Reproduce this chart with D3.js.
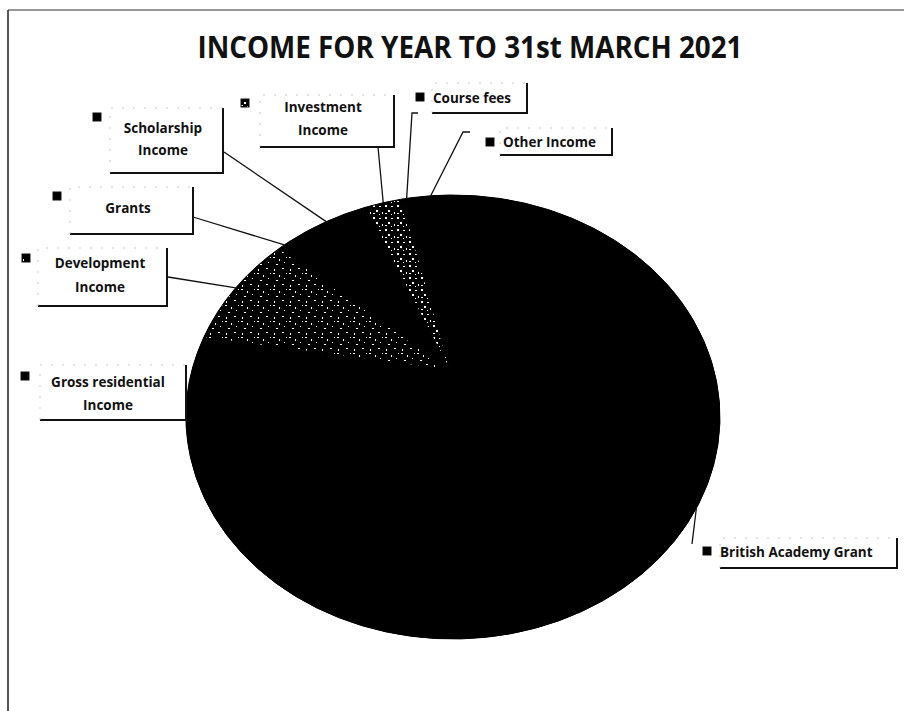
<!DOCTYPE html>
<html>
<head>
<meta charset="utf-8">
<script src="https://cdn.jsdelivr.net/npm/d3@7"></script>
<style>
  html, body { margin: 0; padding: 0; background: #fff; }
  svg { display: block; }
  text { font-family: "Open Sans", "Noto Sans", sans-serif; fill: #111; }
</style>
</head>
<body>
<svg id="chart" width="912" height="711"></svg>
<script>
// ---- data (shares of income, %) ----
const categories = [
  "British Academy Grant",
  "Gross residential Income",
  "Development Income",
  "Grants",
  "Scholarship Income",
  "Investment Income",
  "Course fees",
  "Other Income"
];
const shares = [68.9, 8.6, 8.75, 0.97, 6.25, 2.86, 0.75, 2.92];
const labelLines = [
  ["British Academy Grant"],
  ["Gross residential", "Income"],
  ["Development", "Income"],
  ["Grants"],
  ["Scholarship", "Income"],
  ["Investment", "Income"],
  ["Course fees"],
  ["Other Income"]
];
const titleText = "INCOME FOR YEAR TO 31st MARCH 2021";

// ---- styles / layout ----
const sliceFill = ["black", "black", "url(#speckA)", "black", "black", "url(#speckB)", "black", "black"];
const layout = [
  { mk: [707, 551], anchor: "start", tx: 720, ty: [557], box: [720, 538, 897, 568], lead: [[692, 544]] },
  { mk: [25, 376], anchor: "middle", tx: 108, ty: [387, 410], box: [40, 365, 186, 420], lead: null },
  { mk: [26, 258], anchor: "middle", tx: 100, ty: [268, 292], box: [38, 248, 167, 306], lead: [[168, 277]] },
  { mk: [57, 196], anchor: "middle", tx: 128, ty: [213], box: [70, 187, 193, 234], lead: [[193, 217]] },
  { mk: [97, 117], anchor: "middle", tx: 163, ty: [133, 155], box: [110, 108, 223, 173], lead: [[224, 152]] },
  { mk: [245, 103], anchor: "middle", tx: 323, ty: [112, 135], box: [260, 95, 394, 147], lead: [[378, 147]] },
  { mk: [420, 97], anchor: "start", tx: 433, ty: [103], box: [432, 83, 527, 113], lead: [[418, 113], [412, 113]] },
  { mk: [490, 142], anchor: "start", tx: 503, ty: [147], box: [500, 128, 612, 155], lead: [[470, 132], [463, 132]] }
];

const svg = d3.select("#chart");

// patterns for the scanned grey slices
const defs = svg.append("defs");
function speckle(id, size, dots) {
  const p = defs.append("pattern").attr("id", id).attr("patternUnits", "userSpaceOnUse")
    .attr("width", size).attr("height", size);
  p.append("rect").attr("width", size).attr("height", size).attr("fill", "black");
  dots.forEach(d => p.append("rect").attr("x", d[0]).attr("y", d[1]).attr("width", d[2]).attr("height", d[3]).attr("fill", "white"));
}
speckle("speckA", 16, [[1, 1, 2, 1], [7, 3, 1, 2], [4, 8, 2, 1], [12, 6, 1, 1], [2, 13, 1, 2], [10, 12, 2, 1], [14, 1, 1, 1]]);
speckle("speckB", 12, [[1, 1, 2, 2], [7, 2, 2, 1], [4, 6, 2, 2], [10, 8, 1, 2], [1, 9, 2, 1], [7, 10, 1, 1]]);

// frame (scanned border)
svg.append("line").attr("x1", 8).attr("y1", 10).attr("x2", 904).attr("y2", 10)
  .attr("stroke", "#333").attr("stroke-width", 1.2);
svg.append("line").attr("x1", 8).attr("y1", 10).attr("x2", 8).attr("y2", 711)
  .attr("stroke", "#222").attr("stroke-width", 1.5);

// title
svg.append("text").attr("x", 470).attr("y", 58).attr("text-anchor", "middle")
  .attr("font-size", 30).attr("font-weight", 700)
  .attr("textLength", 545).attr("lengthAdjust", "spacingAndGlyphs")
  .text(titleText);

// ---- pie ----
const apex = [450, 370];        // slice apex
const ell = { cx: 453, cy: 417, rx: 267, ry: 222 };  // outline

const pie = d3.pie().sort(null).value(d => d.value);
const arcs = pie(categories.map((c, i) => ({ name: c, value: shares[i], i })));

// point on the outline reached from the apex in direction of pie angle a
function edgePoint(a) {
  const u = (apex[0] - ell.cx) / ell.rx, v = (apex[1] - ell.cy) / ell.ry;
  const dx = Math.sin(a), dy = -Math.cos(a);
  const b = u * dx + v * dy;
  const c = u * u + v * v - 1;
  const t = -b + Math.sqrt(b * b - c);
  const nx = u + t * dx, ny = v + t * dy;
  return { x: ell.cx + nx * ell.rx, y: ell.cy + ny * ell.ry, phi: Math.atan2(ny, nx) };
}

function slicePath(d) {
  const p1 = edgePoint(d.startAngle), p2 = edgePoint(d.endAngle);
  let dphi = p2.phi - p1.phi;
  while (dphi < 0) dphi += 2 * Math.PI;
  const large = dphi > Math.PI ? 1 : 0;
  return `M${apex[0]},${apex[1]}L${p1.x},${p1.y}A${ell.rx},${ell.ry} 0 ${large} 1 ${p2.x},${p2.y}Z`;
}

// solid base so black slices merge without seams
svg.append("ellipse").attr("cx", ell.cx).attr("cy", ell.cy).attr("rx", ell.rx).attr("ry", ell.ry).attr("fill", "black");
svg.append("g").selectAll("path").data(arcs).join("path")
  .attr("d", slicePath)
  .attr("fill", d => sliceFill[d.data.i])
  .attr("stroke", "black").attr("stroke-width", 1);

// ---- labels ----
const lg = svg.append("g");
arcs.forEach(d => {
  const i = d.data.i, L = layout[i];
  const mid = edgePoint((d.startAngle + d.endAngle) / 2);
  if (L.lead) {
    const pts = L.lead.concat([[mid.x, mid.y]]);
    lg.append("path").attr("d", d3.line()(pts)).attr("fill", "none")
      .attr("stroke", "#111").attr("stroke-width", 1.3);
  }
  const [x0, y0, x1, y1] = L.box;
  lg.append("path").attr("d", `M${x1},${y0}L${x1},${y1}L${x0},${y1}`)
    .attr("fill", "none").attr("stroke", "#111").attr("stroke-width", 2);
  lg.append("path").attr("d", `M${x0},${y1}L${x0},${y0}L${x1},${y0}`)
    .attr("fill", "none").attr("stroke", "#bbb").attr("stroke-width", 0.8).attr("stroke-dasharray", "2 9");
  lg.append("rect").attr("x", L.mk[0] - 4).attr("y", L.mk[1] - 4).attr("width", 8).attr("height", 8)
    .attr("fill", sliceFill[i]).attr("stroke", "#111").attr("stroke-width", 1);
  labelLines[i].forEach((t, k) => {
    lg.append("text").attr("x", L.tx).attr("y", L.ty[k]).attr("text-anchor", L.anchor)
      .attr("font-size", 13.5).attr("font-weight", 700).text(t);
  });
});
</script>
</body>
</html>
